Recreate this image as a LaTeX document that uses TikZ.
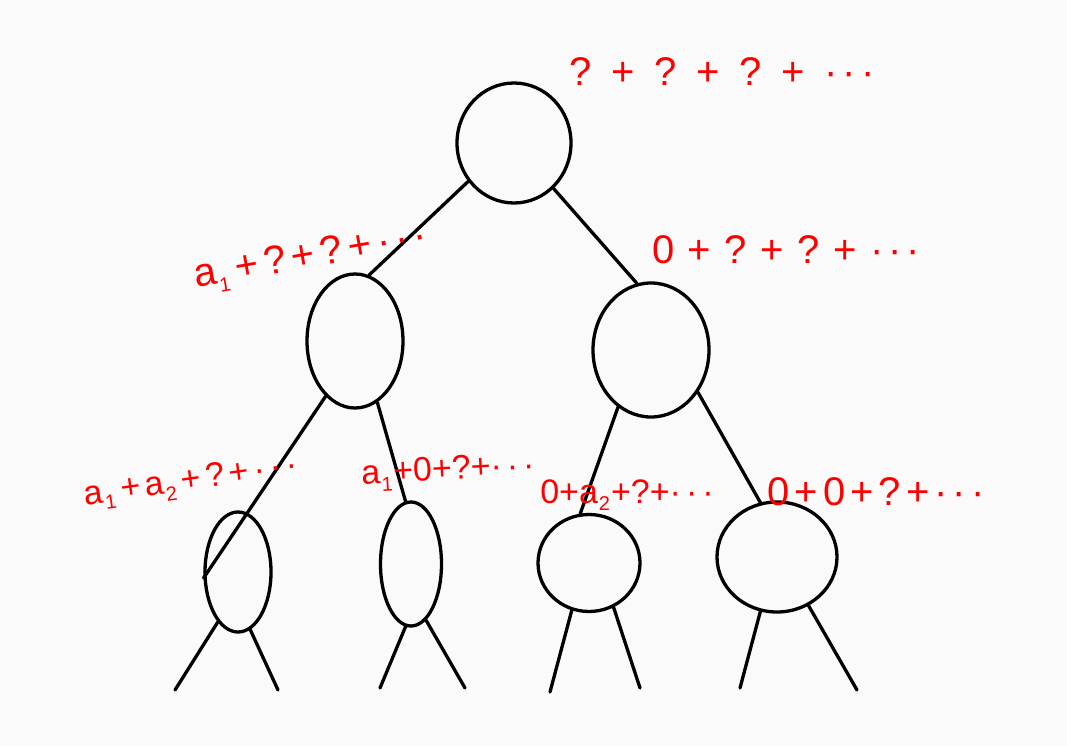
\documentclass[tikz,border=0pt]{standalone}
\usepackage{fontspec}
\setmainfont{Liberation Sans}
\usetikzlibrary{shapes.geometric}
\newcommand{\sub}[1]{\kern1pt\raisebox{-0.22em}{\fontsize{20}{20}\selectfont #1}\kern1pt}
\newcommand{\dts}{·\hspace{5pt}·\hspace{5pt}·}
\begin{document}
\begin{tikzpicture}[x=1pt,y=-1pt,
  circ/.style={draw=black,line width=3.3pt,ellipse,inner sep=0pt},
  edge/.style={draw=black,line width=3.3pt,line cap=round},
  lab/.style={text=red,font=\fontsize{40}{40}\selectfont,inner sep=0pt},
  slab/.style={text=red,font=\fontsize{34}{34}\selectfont,inner sep=0pt}]
\fill[white!98!black] (0,0) rectangle (1067,746);
\useasboundingbox (0,0) rectangle (1067,746);
% nodes
\node[circ,minimum width=114pt,minimum height=120pt] (root) at (514,143) {};
\node[circ,minimum width=96pt,minimum height=134pt] (L) at (355,341) {};
\node[circ,minimum width=116pt,minimum height=134pt] (R) at (651,350) {};
\node[circ,minimum width=66pt,minimum height=120pt] (LL) at (238,572) {};
\node[circ,minimum width=61pt,minimum height=124pt] (LR) at (411,564) {};
\node[circ,minimum width=102pt,minimum height=97pt] (RL) at (589,563) {};
\node[circ,minimum width=120pt,minimum height=110pt] (RR) at (777,557) {};
% edges
\draw[edge] (root.220) -- (L.78);
\draw[edge] (root.311) -- (R.102);
\draw[edge] (L.242) -- (LL.190);
\draw[edge] (L.290) -- (LR.95);
\draw[edge] (R.240) -- (RL.100);
\draw[edge] (R.318) -- (RR.107);
% legs
\coordinate (ll1) at (175,690); \coordinate (ll2) at (278,690);
\coordinate (lr1) at (380,688); \coordinate (lr2) at (465,688);
\coordinate (rl1) at (550,692); \coordinate (rl2) at (640,688);
\coordinate (rr1) at (740,688); \coordinate (rr2) at (857,690);
\draw[edge] (LL.248) -- (ll1);
\draw[edge] (LL.282) -- (ll2);
\draw[edge] (LR.265) -- (lr1);
\draw[edge] (LR.285) -- (lr2);
\draw[edge] (RL.250) -- (rl1);
\draw[edge] (RL.299) -- (rl2);
\draw[edge] (RR.253) -- (rr1);
\draw[edge] (RR.303) -- (rr2);
% labels
\node[lab] (t0) at (722,72) {\makebox[305pt]{?\hfill+\hfill?\hfill+\hfill?\hfill+\hfill\dts}};
\node[lab,rotate=10] (t1) at (311,258) {\makebox[236pt]{a\sub{1}\hfill+\hfill?\hfill+\hfill?\hfill+\hfill\dts}};
\node[lab] (t2) at (786,250) {\makebox[268pt]{0\hfill+\hfill?\hfill+\hfill?\hfill+\hfill\dts}};
\node[slab,rotate=8] (t3) at (191,482) {\makebox[215pt]{a\sub{1}\hfill+\hfill a\sub{2}\hfill+\hfill?\hfill+\hfill\dts}};
\node[slab,rotate=3] (t4) at (448,472) {\makebox[172pt]{a\sub{1}\hfill+\hfill0\hfill+\hfill?\hfill+\hfill\dts}};
\node[slab] (t5) at (627,495) {\makebox[165pt]{0\hfill+\hfill a\sub{2}\hfill+\hfill?\hfill+\hfill\dts}};
\node[lab] (t6) at (876,492) {\makebox[217pt]{0\hfill+\hfill0\hfill+\hfill?\hfill+\hfill\dts}};
\end{tikzpicture}
\end{document}
